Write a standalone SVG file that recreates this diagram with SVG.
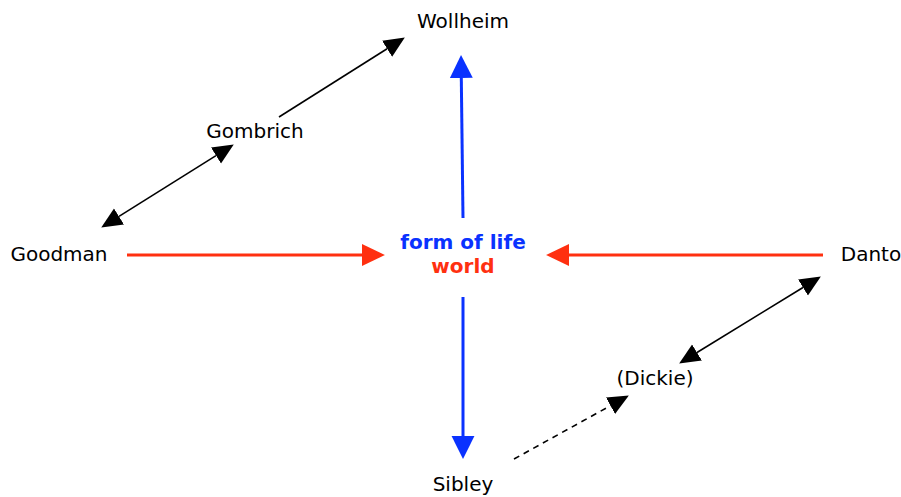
<svg xmlns="http://www.w3.org/2000/svg" width="901" height="497" viewBox="0 0 901 497">
<style>
.lbl{font-family:"DejaVu Sans",Verdana,sans-serif;font-size:20px;fill:#000;text-anchor:middle}
.ctr{font-family:"DejaVu Sans",Verdana,sans-serif;font-size:20px;font-weight:bold;text-anchor:middle}
.blue{stroke:#0a32ff;stroke-width:3;fill:none}
.red{stroke:#ff3010;stroke-width:3;fill:none}
.blk{stroke:#000;stroke-width:1.6;fill:none}
</style>
<defs>
<marker id="hb" markerUnits="userSpaceOnUse" markerWidth="24" markerHeight="24" refX="0" refY="11" orient="auto-start-reverse" viewBox="0 0 22 22"><path d="M0,0.5 L21,11 L0,21.5 z" fill="#0a32ff"/></marker>
<marker id="hr" markerUnits="userSpaceOnUse" markerWidth="24" markerHeight="24" refX="0" refY="11" orient="auto-start-reverse" viewBox="0 0 22 22"><path d="M0,1 L21,11 L0,21 z" fill="#ff3010"/></marker>
<marker id="hk" markerUnits="userSpaceOnUse" markerWidth="22" markerHeight="22" refX="0" refY="10" orient="auto-start-reverse" viewBox="0 0 21 20"><path d="M0,1 L20,10 L0,19 z" fill="#000"/></marker>
</defs>
<g id="connectors">
<line class="blue" x1="463" y1="218" x2="461.3" y2="78" marker-end="url(#hb)"/>
<line class="blue" x1="463" y1="297" x2="463" y2="436" marker-end="url(#hb)"/>
<line class="red" x1="127" y1="255" x2="362" y2="255" marker-end="url(#hr)"/>
<line class="red" x1="823" y1="255" x2="569" y2="255" marker-end="url(#hr)"/>
<line class="blk" x1="119" y1="216.4" x2="216" y2="155.6" marker-start="url(#hk)" marker-end="url(#hk)"/>
<line class="blk" x1="279" y1="117" x2="387.1" y2="48.7" marker-end="url(#hk)"/>
<line class="blk" x1="697" y1="352.5" x2="803" y2="287.5" marker-start="url(#hk)" marker-end="url(#hk)"/>
<line class="blk" x1="514" y1="459" x2="610.5" y2="405.7" stroke-dasharray="6,5" marker-end="url(#hk)"/>
</g>
<g id="wollheim"><text class="lbl" x="463" y="28">Wollheim</text></g>
<g id="gombrich"><text class="lbl" x="255" y="138">Gombrich</text></g>
<g id="goodman"><text class="lbl" x="59" y="261">Goodman</text></g>
<g id="danto"><text class="lbl" x="871" y="261">Danto</text></g>
<g id="center"><text class="ctr" x="463" y="249" fill="#0a32ff">form of life</text><text class="ctr" x="463" y="273" fill="#ff3010">world</text></g>
<g id="dickie"><text class="lbl" x="655" y="385">(Dickie)</text></g>
<g id="sibley"><text class="lbl" x="463" y="491">Sibley</text></g>
</svg>
